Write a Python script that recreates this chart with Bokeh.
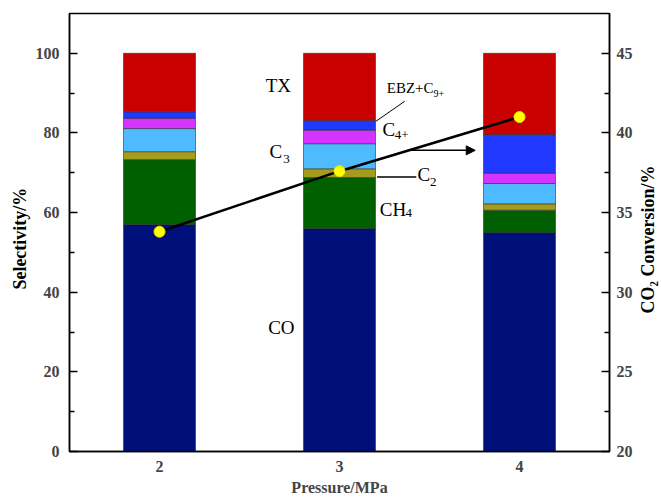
import math
from bokeh.plotting import figure
from bokeh.layouts import row
from bokeh.models import ColumnDataSource, Range1d, LinearAxis, FixedTicker, Arrow, NormalHead
from bokeh.core.properties import value
from bokeh.embed import file_html
from bokeh.resources import INLINE

# ---------------- data ----------------
pressure = [2, 3, 4]
tick_labels = ["2", "3", "4"]
products = ["CO", "CH4", "C2", "C3", "C4+", "EBZ+C9+", "TX"]
CO = [57.0, 56.0, 55.0]
CH4 = [16.3, 12.8, 5.6]
C2 = [2.0, 2.2, 1.6]
C3 = [5.8, 6.3, 5.1]
C4 = [2.6, 3.4, 2.6]
EBZ = [1.6, 2.4, 9.7]
TX = [14.7, 16.9, 20.4]
conversion = [33.8, 37.6, 41.0]
left_title = "Selectivity/%"
right_title = "CO\u2082 Conversion/%"
x_title = "Pressure/MPa"

colors = ["#00107A", "#006000", "#A59C1B", "#4FBBFF", "#D633FF", "#2038FF", "#C80000"]
keys = ["CO", "CH4", "C2", "C3", "C4", "EBZ", "TX"]

src = ColumnDataSource(dict(x=pressure, CO=CO, CH4=CH4, C2=C2, C3=C3,
                            C4=C4, EBZ=EBZ, TX=TX, conv=conversion))

FONT = "Liberation Serif"
H = 500

p = figure(width=603, height=H, output_backend="svg", toolbar_location=None,
           x_range=Range1d(1.5, 4.5), y_range=Range1d(0, 110),
           min_border_left=36, min_border_right=24, min_border_top=13,
           min_border_bottom=49)
p.extra_y_ranges = {"conv": Range1d(20, 47.5)}
p.grid.visible = False
p.outline_line_color = "black"
p.outline_line_width = 1.5
p.background_fill_color = "white"
p.border_fill_color = "white"

p.vbar_stack(keys, x="x", width=0.4, source=src, fill_color=colors,
             line_color="#303030", line_width=0.6)

p.line("x", "conv", source=src, y_range_name="conv", line_color="black", line_width=2.5)
p.scatter("x", "conv", source=src, y_range_name="conv", size=11,
          fill_color="#FFFF00", line_color="#E6E600", line_width=1)

def style_axis(ax, size="16px"):
    ax.major_label_text_font = FONT
    ax.major_label_text_font_style = "bold"
    ax.major_label_text_font_size = size
    ax.axis_label_text_font = FONT
    ax.axis_label_text_font_style = "bold"
    ax.axis_label_text_font_size = "16px"
    ax.axis_line_width = 1.5
    ax.major_tick_line_width = 1.5
    ax.minor_tick_line_width = 1.5
    ax.major_tick_out = 0
    ax.major_tick_in = 8
    ax.minor_tick_out = 0
    ax.minor_tick_in = 5
    ax.major_label_standoff = 10

# x axis
xa = p.xaxis[0]
style_axis(xa)
xa.ticker = FixedTicker(ticks=pressure)
xa.major_label_overrides = {pv: t for pv, t in zip(pressure, tick_labels)}
xa.major_tick_in = 0
xa.minor_tick_in = 0
xa.major_label_standoff = 9
xa.axis_label = x_title
xa.axis_label_standoff = 4

# left axis
ya = p.yaxis[0]
style_axis(ya)
ya.ticker = FixedTicker(ticks=[0, 20, 40, 60, 80, 100],
                        minor_ticks=[10, 30, 50, 70, 90])

# right axis
ra = LinearAxis(y_range_name="conv")
style_axis(ra)
ra.ticker = FixedTicker(ticks=[20, 25, 30, 35, 40, 45],
                        minor_ticks=[22.5, 27.5, 32.5, 37.5, 42.5])
ra.major_label_standoff = 7
p.add_layout(ra, "right")

# ---------------- annotations ----------------
DY = 2.0
def txt(x, y, s, size, align="left"):
    p.text(x=[x], y=[y + DY], text=[s], text_font=value(FONT), text_font_size=size,
           text_align=align, text_baseline="alphabetic", text_color="black")

big, sub = "19px", "13px"
txt(2.660, 89.95, "TX", big, "center")
txt(2.6105, 73.37, "C", big); txt(2.688, 71.36, "3", sub)
txt(2.677, 29.15, "CO", big, "center")
txt(3.2238, 58.87, "CH", big); txt(3.367, 57.79, "4", sub)
txt(3.4337, 67.66, "C", big); txt(3.503, 65.58, "2", sub)
txt(3.2387, 78.97, "C", big); txt(3.3066, 77.39, "4+", sub)
txt(3.2624, 89.2, "EBZ+C", "15px"); txt(3.522, 88.0, "9+", "10px")

# leader lines
p.segment(x0=[3.2017], y0=[82.91], x1=[3.3619], y1=[87.94], line_color="black", line_width=1)
p.segment(x0=[3.2088], y0=[68.92], x1=[3.4265], y1=[68.92], line_color="black", line_width=1.5)
p.add_layout(Arrow(end=NormalHead(size=9, fill_color="black", line_color="black"),
                   x_start=3.3895, y_start=75.63, x_end=3.7541, y_end=75.63,
                   line_color="black", line_width=1.5))

# ---------------- vertical axis titles (narrow side panels) ----------------
def title_panel(w, xc, yc, s):
    f = figure(width=w, height=H, output_backend="svg", toolbar_location=None,
               x_range=Range1d(0, w), y_range=Range1d(0, H),
               x_axis_location=None, y_axis_location=None,
               min_border=0, min_border_left=0, min_border_right=0,
               min_border_top=0, min_border_bottom=0)
    f.grid.visible = False
    f.outline_line_color = None
    f.background_fill_color = "white"
    f.border_fill_color = "white"
    f.text(x=[xc], y=[H - yc], text=[s], angle=math.pi / 2,
           text_font=value(FONT), text_font_style="bold", text_font_size="18px",
           text_align="center", text_baseline="middle", text_color="black")
    return f

left_panel = title_panel(32, 19, 257, left_title)
right_panel = title_panel(26, 12, 258, right_title)

layout = row(left_panel, p, right_panel)
open("out.html", "w").write(file_html(layout, INLINE))
